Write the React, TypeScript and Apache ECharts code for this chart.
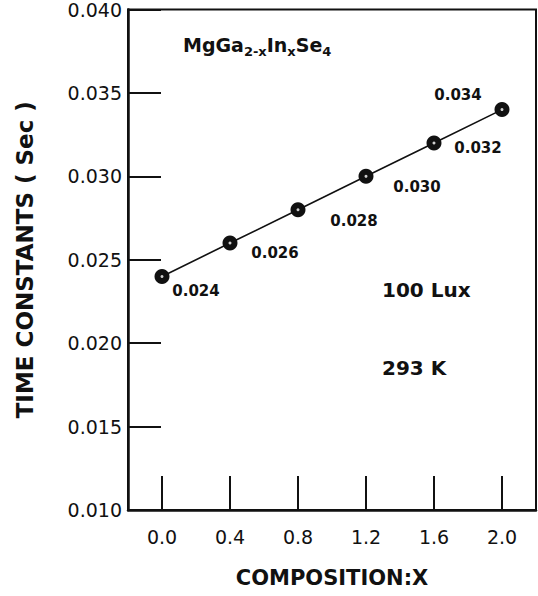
import React, { useEffect, useRef } from "react";
import * as echarts from "echarts";

const compositions = [0.0, 0.4, 0.8, 1.2, 1.6, 2.0];
const timeConstants = [0.024, 0.026, 0.028, 0.03, 0.032, 0.034];
const xTickValues = [0.0, 0.4, 0.8, 1.2, 1.6, 2.0];
const yTickInterval = 0.005;
const yMin = 0.01;
const yMax = 0.04;
const xMin = -0.2;
const xMax = 2.2;
const xAxisTitle = "COMPOSITION:X";
const yAxisTitle = "TIME CONSTANTS ( Sec )";
const notes = ["100 Lux", "293 K"];

// label placement relative to each point (layout only)
const labelOffsets = [
  [34, 15],
  [45, 10],
  [56, 11],
  [51, 11],
  [44, 5],
  [-44, -15],
];

const FONT = "DejaVu Sans";

export default function App() {
  const ref = useRef<HTMLDivElement>(null);
  useEffect(() => {
    if (!ref.current) return;
    const chart = echarts.init(ref.current, undefined, { renderer: "svg" });
    const points = compositions.map((x, i) => [x, timeConstants[i]]);
    chart.setOption({
      animation: false,
      backgroundColor: "#ffffff",
      grid: {
        left: 128,
        right: 2,
        top: 6,
        bottom: 86,
        show: true,
        borderColor: "#111",
        borderWidth: 2,
        backgroundColor: "transparent",
      },
      xAxis: {
        type: "value",
        min: xMin,
        max: xMax,
        name: xAxisTitle,
        nameLocation: "middle",
        nameGap: 57,
        nameTextStyle: { fontFamily: FONT, fontWeight: "bold", fontSize: 21, color: "#111" },
        axisLine: { show: true, onZero: false, lineStyle: { color: "#111", width: 2.5 } },
        axisTick: {
          show: true,
          inside: true,
          length: 34,
          lineStyle: { color: "#111", width: 2 },
          customValues: xTickValues,
        },
        axisLabel: {
          customValues: xTickValues,
          formatter: (v: number) => v.toFixed(1),
          margin: 17,
          fontFamily: FONT,
          fontSize: 19,
          color: "#111",
        },
        splitLine: { show: false },
      },
      yAxis: {
        type: "value",
        min: yMin,
        max: yMax,
        interval: yTickInterval,
        name: yAxisTitle,
        nameLocation: "middle",
        nameGap: 92,
        nameTextStyle: { fontFamily: FONT, fontWeight: "bold", fontSize: 23, color: "#111" },
        axisLine: { show: true, onZero: false, lineStyle: { color: "#111", width: 2.5 } },
        axisTick: { show: true, inside: true, length: 33, lineStyle: { color: "#111", width: 2 } },
        axisLabel: {
          formatter: (v: number) => v.toFixed(3),
          margin: 6,
          fontFamily: FONT,
          fontSize: 19,
          color: "#111",
        },
        splitLine: { show: false },
      },
      series: [
        {
          type: "line",
          data: points.map((p, i) => ({
            value: p,
            label: { offset: labelOffsets[i] },
          })),
          symbol: "circle",
          symbolSize: 15,
          itemStyle: { color: "#111" },
          lineStyle: { color: "#111", width: 1.6 },
          label: {
            show: true,
            position: "inside",
            align: "center",
            verticalAlign: "middle",
            formatter: (p: any) => p.value[1].toFixed(3),
            fontFamily: FONT,
            fontWeight: "bold",
            fontSize: 15,
            color: "#111",
          },
          z: 3,
        },
        {
          type: "scatter",
          data: points,
          symbol: "circle",
          symbolSize: 3,
          itemStyle: { color: "#fff" },
          silent: true,
          z: 4,
        },
      ],
      graphic: [
        {
          type: "text",
          left: 183,
          top: 35,
          style: {
            text: "{b|MgGa}{s|2-x}{b|In}{s|x}{b|Se}{s|4}",
            rich: {
              b: { fontFamily: FONT, fontWeight: "bold", fontSize: 19, lineHeight: 26, fill: "#111" },
              s: {
                fontFamily: FONT,
                fontWeight: "bold",
                fontSize: 13,
                lineHeight: 26,
                verticalAlign: "bottom",
                fill: "#111",
              },
            },
          },
        },
        {
          type: "text",
          x: 382,
          y: 290,
          style: {
            text: notes[0],
            fontFamily: FONT,
            fontSize: 20,
            fontWeight: "bold",
            fill: "#111",
            align: "left",
            verticalAlign: "middle",
          },
        },
        {
          type: "text",
          x: 382,
          y: 368,
          style: {
            text: notes[1],
            fontFamily: FONT,
            fontSize: 20,
            fontWeight: "bold",
            fill: "#111",
            align: "left",
            verticalAlign: "middle",
          },
        },
      ],
    });
    return () => chart.dispose();
  }, []);
  return (
    <div
      ref={ref}
      style={{ position: "fixed", left: 0, top: 0, width: 538, height: 596, background: "#fff" }}
    />
  );
}
